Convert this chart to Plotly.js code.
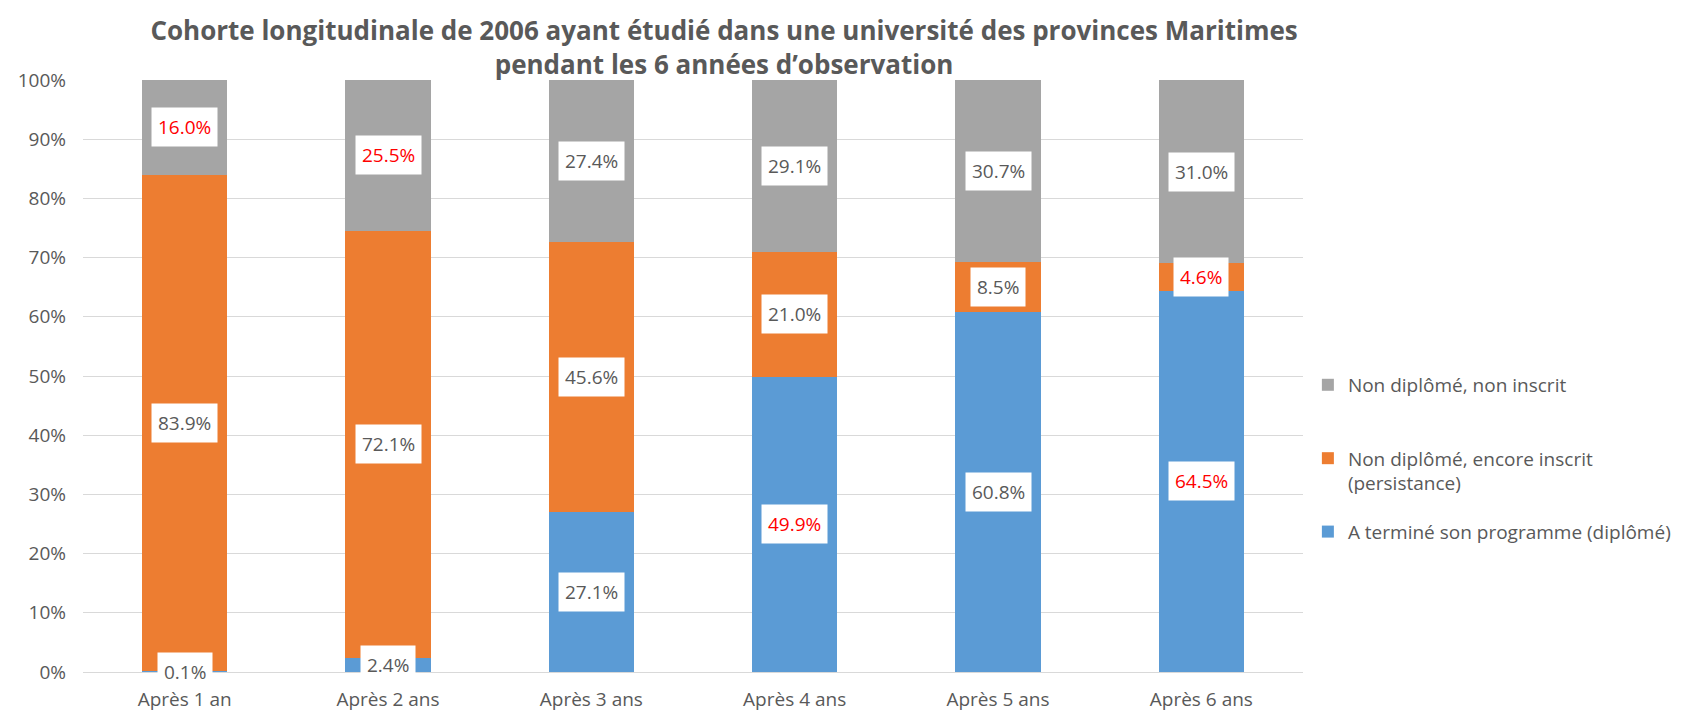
<!DOCTYPE html>
<html>
<head>
<meta charset="utf-8">
<script src="https://cdn.plot.ly/plotly-3.0.1.min.js"></script>
<style>html,body{margin:0;padding:0;background:#fff;}#chart{width:1689px;height:712px;}</style>
</head>
<body>
<div id="chart"></div>
<script>
const categories = ["Après 1 an", "Après 2 ans", "Après 3 ans", "Après 4 ans", "Après 5 ans", "Après 6 ans"];
const diplome = [0.1, 2.4, 27.1, 49.9, 60.8, 64.5];
const persistance = [83.9, 72.1, 45.6, 21.0, 8.5, 4.6];
const nonInscrit = [16.0, 25.5, 27.4, 29.1, 30.7, 31.0];
const seriesNames = ["A terminé son programme (diplômé)", "Non diplômé, encore inscrit<br>(persistance)", "Non diplômé, non inscrit<br> "];
const tickVals = [0, 10, 20, 30, 40, 50, 60, 70, 80, 90, 100];
// labels shown in red in the original
const redLabels = [
  [false, false, false, true, false, true],
  [false, false, false, false, false, true],
  [true, true, false, false, false, false]
];

const colors = ["#5B9BD5", "#ED7D31", "#A5A5A5"];
const legendRanks = [3, 2, 1];
const FONT = "Open Sans, Noto Sans, sans-serif";
const series = [diplome, persistance, nonInscrit];

const traces = series.map((vals, i) => ({
  type: "bar",
  name: seriesNames[i],
  x: categories,
  y: vals,
  marker: {color: colors[i], line: {width: 0}},
  legendgroup: "g" + i,
  legendrank: legendRanks[i],
  hoverinfo: "x+y+name"
}));

const annotations = [];
categories.forEach((c, j) => {
  const total = series.reduce((s, arr) => s + arr[j], 0);
  let base = 0;
  series.forEach((arr, i) => {
    const v = arr[j] / total * 100;
    annotations.push({
      x: c, y: base + v / 2, xref: "x", yref: "y",
      text: arr[j].toFixed(1) + "%",
      showarrow: false,
      bgcolor: "#FFFFFF",
      borderpad: 6,
      font: {family: FONT, size: 19, color: redLabels[i][j] ? "#FF0000" : "#595959"}
    });
    base += v;
  });
});

const layout = {
  width: 1689, height: 712,
  paper_bgcolor: "#FFFFFF", plot_bgcolor: "#FFFFFF",
  margin: {l: 83, r: 386, t: 80, b: 40},
  barmode: "stack",
  barnorm: "percent",
  bargap: 0.58,
  font: {family: FONT, color: "#595959", size: 19},
  title: {
    text: "<b>Cohorte longitudinale de 2006 ayant étudié dans une université des provinces Maritimes<br>pendant les 6 années d’observation</b>",
    font: {family: FONT, size: 26, color: "#595959"},
    xref: "container", x: 0.4287, xanchor: "center",
    yref: "container", y: 0.944, yanchor: "middle"
  },
  xaxis: {
    type: "category",
    showgrid: false,
    showline: false,
    ticks: "",
    ticklabelstandoff: 14,
    tickfont: {family: FONT, size: 19, color: "#595959"},
    fixedrange: true
  },
  yaxis: {
    range: [0, 100],
    tickvals: tickVals,
    ticktext: tickVals.map(v => v + "%"),
    showgrid: true,
    gridcolor: "#D9D9D9",
    gridwidth: 1,
    zeroline: true,
    zerolinecolor: "#D9D9D9",
    zerolinewidth: 1,
    showline: false,
    ticks: "",
    ticklabelstandoff: 16,
    tickfont: {family: FONT, size: 19, color: "#595959"},
    fixedrange: true
  },
  legend: {
    x: 1.004, xanchor: "left",
    y: 0.517, yanchor: "top",
    traceorder: "grouped",
    tracegroupgap: 21,
    valign: "top",
    itemwidth: 30,
    font: {family: FONT, size: 19, color: "#595959"}
  },
  annotations: annotations,
  showlegend: true
};

Plotly.newPlot("chart", traces, layout, {displayModeBar: false, staticPlot: true});
</script>
</body>
</html>
